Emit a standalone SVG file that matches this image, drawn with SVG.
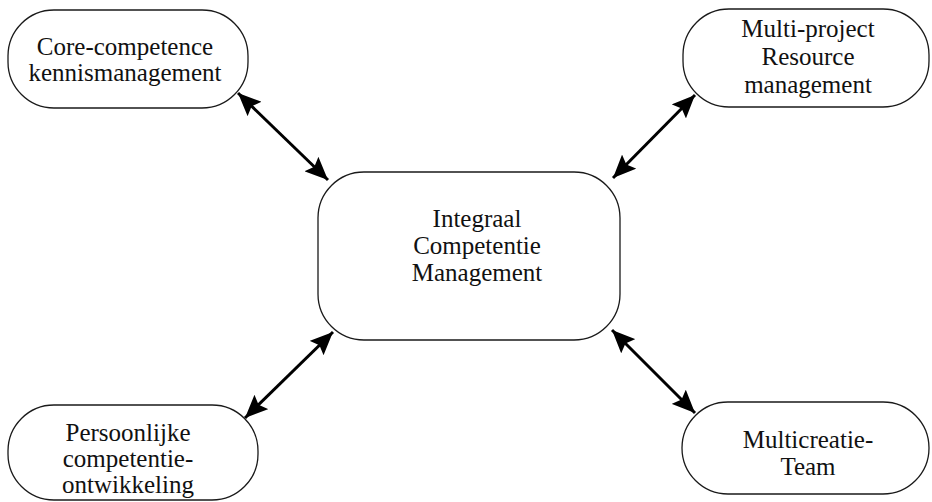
<svg xmlns="http://www.w3.org/2000/svg" width="932" height="502" viewBox="0 0 932 502">
  <style>
    .box { fill: #ffffff; stroke: #1a1a1a; stroke-width: 1.3; }
    .lbl { font-family: "Liberation Serif", "Times New Roman", serif; font-size: 25px; fill: #111111; text-anchor: middle; }
    .link { stroke: #000000; stroke-width: 3; fill: none; marker-start: url(#head); marker-end: url(#head); }
  </style>
  <defs>
    <!-- solid triangular arrowhead, reused at both ends of every link -->
    <marker id="head" markerUnits="userSpaceOnUse" markerWidth="24" markerHeight="20" refX="23" refY="10" orient="auto-start-reverse">
      <path d="M0,0 L23,10 L0,20 L4,10 z" fill="#000000"/>
    </marker>
  </defs>
  <rect width="932" height="502" fill="#ffffff"/>

  <g id="connectors">
    <line class="link" x1="238" y1="93" x2="328" y2="180"/>
    <line class="link" x1="695" y1="95" x2="613" y2="178"/>
    <line class="link" x1="245" y1="418" x2="333" y2="332"/>
    <line class="link" x1="612" y1="330" x2="695" y2="413"/>
  </g>

  <g id="center">
    <rect class="box" x="318" y="172" width="302" height="168" rx="46" ry="46"/>
    <text class="lbl" x="477" y="227">Integraal</text>
    <text class="lbl" x="477" y="254">Competentie</text>
    <text class="lbl" x="477" y="281">Management</text>
  </g>

  <g id="core-competence">
    <rect class="box" x="8" y="10" width="240" height="98" rx="46" ry="46"/>
    <text class="lbl" x="125" y="55">Core-competence</text>
    <text class="lbl" x="125" y="81">kennismanagement</text>
  </g>

  <g id="multi-project">
    <rect class="box" x="683" y="9" width="246" height="98" rx="46" ry="46"/>
    <text class="lbl" x="808" y="37">Multi-project</text>
    <text class="lbl" x="808" y="65">Resource</text>
    <text class="lbl" x="808" y="93">management</text>
  </g>

  <g id="persoonlijke">
    <rect class="box" x="8" y="405" width="250" height="95" rx="46" ry="46"/>
    <text class="lbl" x="128" y="441">Persoonlijke</text>
    <text class="lbl" x="128" y="467">competentie-</text>
    <text class="lbl" x="128" y="493">ontwikkeling</text>
  </g>

  <g id="multicreatie">
    <rect class="box" x="682" y="402" width="247" height="92" rx="46" ry="46"/>
    <text class="lbl" x="808" y="448">Multicreatie-</text>
    <text class="lbl" x="808" y="475">Team</text>
  </g>
</svg>
